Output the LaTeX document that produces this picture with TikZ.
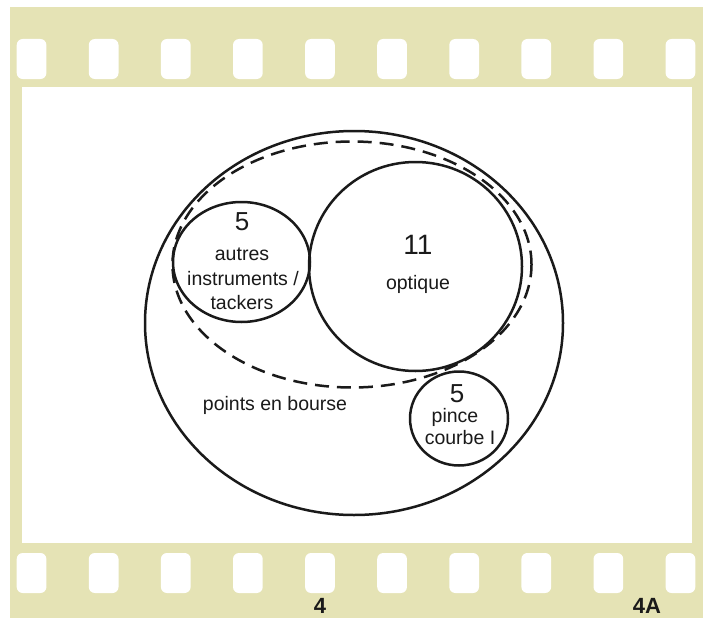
\documentclass[tikz,border=0pt]{standalone}
\usepackage{fontspec}
\setmainfont{Liberation Sans}
\usetikzlibrary{shapes.geometric}
\definecolor{film}{HTML}{E5E3B5}
\definecolor{ink}{HTML}{1A1A1A}
\tikzset{
  ring/.style={draw=ink, line width=2.5pt, ellipse, inner sep=0pt},
  dashring/.style={draw=ink, line width=2.5pt, dash pattern=on 14pt off 8pt},
  lbl/.style={font=\fontsize{19.5}{21}\selectfont, text=ink, inner sep=0pt, align=center},
  num/.style={font=\fontsize{26}{28}\selectfont, text=ink, inner sep=0pt},
  framelbl/.style={font=\fontsize{22}{24}\selectfont\bfseries, text=ink, inner sep=0pt},
  hole/.style={fill=white, rounded corners=6pt}
}
\begin{document}
\begin{tikzpicture}[x=1pt,y=-1pt]
\useasboundingbox (0,0) rectangle (703,618);
\fill[white] (0,0) rectangle (703,618);
% film strip
\fill[film] (10,7) rectangle (703,618);
\fill[white] (22,87) rectangle (692,543);
\foreach \k in {0,...,9}{
  \fill[hole] ({16.7+72.1*\k},39) rectangle ({46.4+72.1*\k},79);
  \fill[hole] ({16.7+72.1*\k},553) rectangle ({46.4+72.1*\k},593);
}
\node[framelbl] (f4) at (320,606) {4};
\node[framelbl] (f4a) at (647,606) {4A};
% outer ellipse
\node[ring, minimum width=418pt, minimum height=384pt] (outer) at (354,323) {};
% dashed ellipse
\draw[dashring] (352,264.5) ellipse [x radius=179.5pt, y radius=123pt];
% optique
\node[ring, minimum width=213pt, minimum height=209pt] (opt) at (415.5,266.5) {};
% autres
\node[ring, minimum width=137pt, minimum height=120pt] (aut) at (241.5,262) {};
% pince
\node[ring, minimum width=98pt, minimum height=94pt] (pin) at (459,418.5) {};
% texts
\node[num] (n5a) at (242,222) {5};
\node[lbl] (t1) at (242,254) {autres};
\node[lbl] (t2) at (243,279) {instruments /};
\node[lbl] (t3) at (242,303) {tackers};
\node[num, font=\fontsize{28}{30}\selectfont] (n11) at (418,245) {11};
\node[lbl] (t4) at (418,284) {optique};
\node[num] (n5b) at (457,394) {5};
\node[lbl] (t5) at (455,417) {pince};
\node[lbl] (t6) at (460,438) {courbe I};
\node[lbl] (t7) at (275,405) {points en bourse};
\end{tikzpicture}
\end{document}
